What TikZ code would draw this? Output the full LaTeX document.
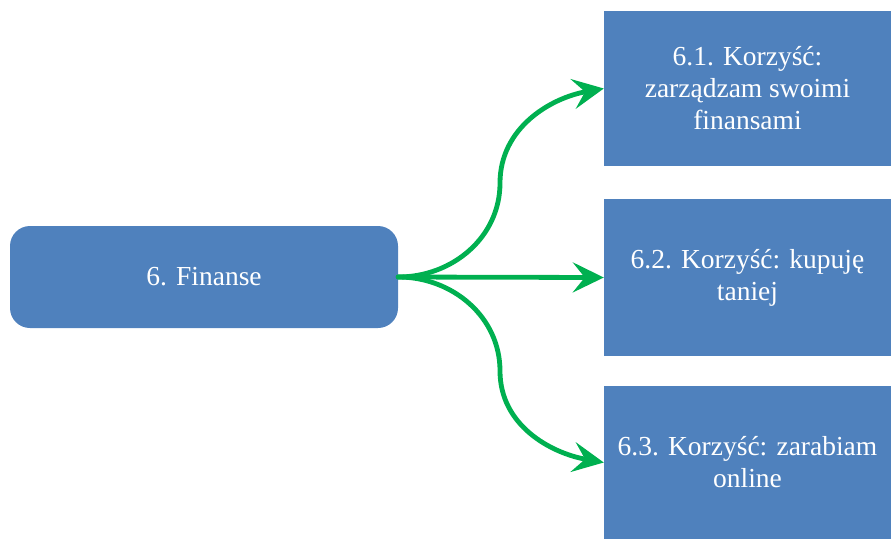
\documentclass[tikz,border=0pt]{standalone}
\usepackage{fontspec}
\setmainfont{Liberation Serif}
\usetikzlibrary{arrows.meta}
\definecolor{boxblue}{HTML}{4F81BD}
\definecolor{arrowgreen}{HTML}{00B050}
\begin{document}
\begin{tikzpicture}[x=1pt,y=-1pt,
  topic/.style={fill=boxblue, text=white, inner sep=0pt, rounded corners=20pt,
    minimum width=388pt, minimum height=102pt, align=center,
    font=\fontsize{27.5}{32}\selectfont},
  benefit/.style={fill=boxblue, text=white, inner sep=0pt,
    minimum width=287pt, align=center,
    font=\fontsize{27.5}{32}\selectfont},
  link/.style={draw=arrowgreen, line width=4.8pt, line cap=round,
    -{Stealth[length=31pt,width=30pt,inset=12pt]}}]
\useasboundingbox (0,0) rectangle (891,539);

\node[topic] (fin) at (204,277) {6. Finanse};
\node[benefit, minimum height=155pt] (b1) at (747.5,88.5)
  {6.1. Korzyść:\\zarządzam swoimi\\finansami};
\node[benefit, minimum height=157pt] (b2) at (747.5,277.5)
  {6.2. Korzyść: kupuję\\taniej};
\node[benefit, minimum height=153pt] (b3) at (747.5,462.5)
  {6.3. Korzyść: zarabiam\\online};

\coordinate (upbend) at (500,183);
\coordinate (downbend) at (500,371);

\draw[link] (fin.east) to[out=0,in=-90] (upbend) to[out=90,in=190] (b1.west);
\draw[link] (fin.east) -- (b2.west);
\draw[link] (fin.east) to[out=0,in=90] (downbend) to[out=-90,in=170] (b3.west);
\end{tikzpicture}
\end{document}
